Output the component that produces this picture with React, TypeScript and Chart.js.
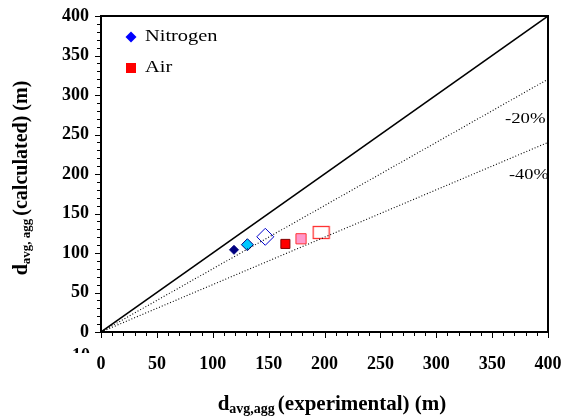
import React, { useEffect, useRef } from "react";
import { Chart, registerables } from "chart.js";

Chart.register(...registerables);

// ---- data ----
const nitrogenX = [119, 131, 147];
const nitrogenY = [104, 110.5, 120.5];
const airX = [165, 179, 197];
const airY = [111.5, 118, 126];

const refX = [0, 400];
const perfectY = [0, 400];
const minus20Y = [0, 320];
const minus40Y = [0, 240];

const xTickLabels = ["0", "50", "100", "150", "200", "250", "300", "350", "400"];
const yTickLabels = ["0", "50", "100", "150", "200", "250", "300", "350", "400"];

const SERIF = "'Liberation Serif', 'Times New Roman', serif";

function makeRectCanvas(w: number, h: number, stroke: string, fill: string) {
  const c = document.createElement("canvas");
  c.width = w + 2;
  c.height = h + 2;
  const ctx = c.getContext("2d")!;
  ctx.fillStyle = fill;
  ctx.fillRect(1, 1, w, h);
  ctx.strokeStyle = stroke;
  ctx.lineWidth = 1.3;
  ctx.strokeRect(1.5, 1.5, w - 1, h - 1);
  return c;
}

function stretchedText(ctx: any, text: string, x: number, y: number, sx: number) {
  ctx.save();
  ctx.translate(x, y);
  ctx.scale(sx, 1);
  ctx.fillText(text, 0, 0);
  ctx.restore();
}

const framePlugin = {
  id: "frameAndText",
  afterDraw(chart: any) {
    const { ctx, chartArea } = chart;
    const { left, right, top, bottom } = chartArea;
    const xs = chart.scales.x;
    const ys = chart.scales.y;
    ctx.save();
    // frame
    ctx.strokeStyle = "#000";
    ctx.lineWidth = 2;
    ctx.beginPath();
    ctx.moveTo(left, bottom);
    ctx.lineTo(left, top);
    ctx.lineTo(right, top);
    ctx.lineTo(right, bottom);
    ctx.lineTo(left, bottom);
    ctx.stroke();
    // ticks
    ctx.lineWidth = 1;
    for (let v = 0; v <= 400; v += 10) {
      const major = v % 50 === 0;
      const py = Math.round(ys.getPixelForValue(v)) + 0.5;
      ctx.beginPath();
      ctx.moveTo(left, py);
      ctx.lineTo(left - (major ? 6 : 4), py);
      ctx.stroke();
      const px = Math.round(xs.getPixelForValue(v)) + 0.5;
      ctx.beginPath();
      ctx.moveTo(px, bottom);
      ctx.lineTo(px, bottom + (major ? 6 : 4));
      ctx.stroke();
    }
    // partially hidden stray label
    ctx.save();
    ctx.beginPath();
    ctx.rect(0, 340, 120, 13);
    ctx.clip();
    ctx.fillStyle = "#000";
    ctx.font = `bold 18px ${SERIF}`;
    ctx.textAlign = "right";
    ctx.textBaseline = "middle";
    ctx.fillText("10", 90, 356);
    ctx.restore();

    // legend
    ctx.fillStyle = "#0000FF";
    ctx.beginPath();
    ctx.moveTo(131, 31.5);
    ctx.lineTo(136.5, 37);
    ctx.lineTo(131, 42.5);
    ctx.lineTo(125.5, 37);
    ctx.closePath();
    ctx.fill();
    ctx.fillStyle = "#FF0000";
    ctx.fillRect(126, 63, 10, 10);
    ctx.fillStyle = "#000";
    ctx.font = `17px ${SERIF}`;
    ctx.textAlign = "left";
    ctx.textBaseline = "middle";
    stretchedText(ctx, "Nitrogen", 145, 37, 1.2);
    stretchedText(ctx, "Air", 145, 68, 1.2);

    // line labels
    ctx.font = `15px ${SERIF}`;
    stretchedText(ctx, "-20%", 505, 119, 1.25);
    stretchedText(ctx, "-40%", 509, 175, 1.22);

    // axis titles
    const drawTitle = (sub: string, rest: string, size: number) => {
      const big = `bold ${size}px ${SERIF}`;
      const small = `bold ${Math.round(size * 0.65)}px ${SERIF}`;
      ctx.font = big;
      const w1 = ctx.measureText("d").width;
      ctx.font = small;
      const w2 = ctx.measureText(sub).width;
      ctx.font = big;
      const w3 = ctx.measureText(rest).width;
      const total = w1 + w2 + 3 + w3;
      let x = -total / 2;
      ctx.textAlign = "left";
      ctx.textBaseline = "alphabetic";
      ctx.font = big;
      ctx.fillText("d", x, 7);
      x += w1;
      ctx.font = small;
      ctx.fillText(sub, x, 10);
      x += w2 + 3;
      ctx.font = big;
      ctx.fillText(rest, x, 7);
    };
    ctx.fillStyle = "#000";
    ctx.save();
    ctx.translate(332, 403);
    drawTitle("avg,agg", "(experimental) (m)", 21);
    ctx.restore();
    ctx.save();
    ctx.translate(20, 178);
    ctx.rotate(-Math.PI / 2);
    drawTitle("avg, agg", "(calculated) (m)", 20);
    ctx.restore();

    ctx.restore();
  },
};

export default function App() {
  const ref = useRef<HTMLCanvasElement>(null);
  useEffect(() => {
    document.body.style.margin = "0";
    const bigRect = makeRectCanvas(17, 13, "#FF3333", "#FFFFFF");
    const nitrogenData = nitrogenX.map((x, i) => ({ x, y: nitrogenY[i] }));
    const airData = airX.map((x, i) => ({ x, y: airY[i] }));
    const line = (ys: number[]) => refX.map((x, i) => ({ x, y: ys[i] }));
    const chart = new Chart(ref.current!, {
      type: "scatter",
      data: {
        datasets: [
          {
            label: "perfect",
            data: line(perfectY),
            showLine: true,
            borderColor: "#000",
            borderWidth: 1.5,
            pointRadius: 0,
          },
          {
            label: "-20%",
            data: line(minus20Y),
            showLine: true,
            borderColor: "#000",
            borderWidth: 1.1,
            borderDash: [1, 2],
            pointRadius: 0,
          },
          {
            label: "-40%",
            data: line(minus40Y),
            showLine: true,
            borderColor: "#000",
            borderWidth: 1.1,
            borderDash: [1, 2],
            pointRadius: 0,
          },
          {
            label: "Nitrogen",
            data: nitrogenData,
            pointStyle: ["rectRot", "rectRot", "rectRot"],
            pointRadius: [4.5, 6, 8.5],
            backgroundColor: ["#000080", "#00C8FF", "#FFFFFF"],
            borderColor: ["#000080", "#000080", "#0000CC"],
            borderWidth: 1,
          },
          {
            label: "Air",
            data: airData,
            pointStyle: ["rect", "rect", bigRect] as any,
            pointRadius: [6.4, 7.2, 9],
            backgroundColor: ["#FF0000", "#FF99CC", "#FFFFFF"],
            borderColor: ["#800000", "#FF3333", "#FF3333"],
            borderWidth: 1,
          },
        ],
      },
      options: {
        animation: false,
        responsive: false,
        maintainAspectRatio: false,
        layout: { padding: { left: 0, right: 18, top: 16, bottom: 0 } },
        plugins: { legend: { display: false }, tooltip: { enabled: false } },
        scales: {
          x: {
            type: "linear",
            min: 0,
            max: 400,
            border: { display: false },
            grid: { display: false },
            ticks: {
              stepSize: 50,
              autoSkip: false,
              maxRotation: 0,
              color: "#000",
              font: { family: SERIF, size: 18, weight: "bold" },
              padding: 14,
              callback: (v: any, i: number) => xTickLabels[i],
            },
            afterFit: (s: any) => {
              s.height = 84;
              s.paddingLeft = 0;
              s.paddingRight = 0;
            },
          },
          y: {
            type: "linear",
            min: 0,
            max: 400,
            border: { display: false },
            grid: { display: false },
            ticks: {
              stepSize: 50,
              autoSkip: false,
              color: "#000",
              font: { family: SERIF, size: 18, weight: "bold" },
              padding: 4,
              callback: (v: any, i: number) => yTickLabels[i],
            },
            afterFit: (s: any) => {
              s.width = 101;
              s.paddingTop = 0;
              s.paddingBottom = 0;
            },
          },
        },
      },
      plugins: [framePlugin],
    });
    return () => chart.destroy();
  }, []);
  return (
    <div style={{ position: "absolute", left: 0, top: 0, width: 566, height: 416 }}>
      <canvas ref={ref} width={566} height={416} style={{ width: 566, height: 416 }} />
    </div>
  );
}
